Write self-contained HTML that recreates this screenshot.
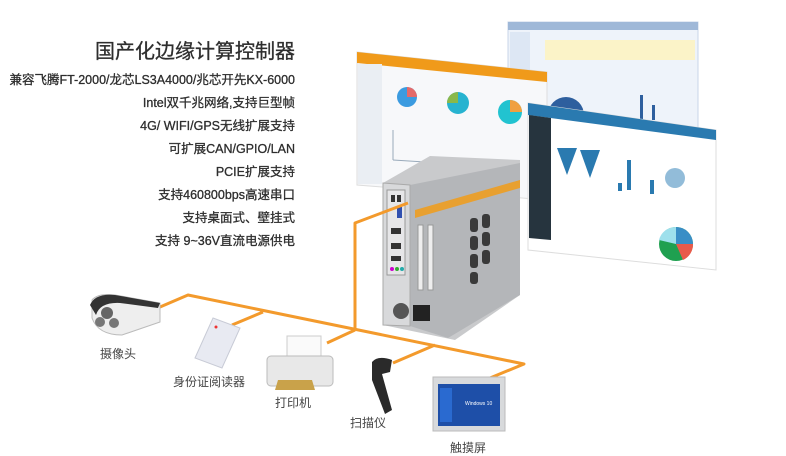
<!DOCTYPE html>
<html><head><meta charset="utf-8"><style>
html,body{margin:0;padding:0;background:#fff;}
body{width:786px;height:453px;position:relative;overflow:hidden;font-family:"Liberation Sans","Noto Sans CJK SC",sans-serif;color:#333;}
.t{position:absolute;right:491px;white-space:nowrap;font-size:12.5px;line-height:16px;color:#2e2e2e;text-align:right;-webkit-text-stroke:0.3px #2e2e2e;}
.l{position:absolute;font-size:12px;color:#444;white-space:nowrap;}
</style></head><body>
<div class="t" style="top:40px;font-size:20px;line-height:24px;">国产化边缘计算控制器</div>
<div class="t" style="top:72px;">兼容飞腾FT-2000/龙芯LS3A4000/兆芯开先KX-6000</div>
<div class="t" style="top:95px;">Intel双千兆网络,支持巨型帧</div>
<div class="t" style="top:118px;">4G/ WIFI/GPS无线扩展支持</div>
<div class="t" style="top:141px;">可扩展CAN/GPIO/LAN</div>
<div class="t" style="top:164px;">PCIE扩展支持</div>
<div class="t" style="top:187px;">支持460800bps高速串口</div>
<div class="t" style="top:210px;">支持桌面式、壁挂式</div>
<div class="t" style="top:233px;">支持 9~36V直流电源供电</div>

<svg width="786" height="453" style="position:absolute;left:0;top:0">
<!-- back screen -->
<rect x="508" y="22" width="190" height="110" fill="#eef3fa" stroke="#c8d6e8"/>
<rect x="508" y="22" width="190" height="8" fill="#9fb8d8"/>
<rect x="510" y="32" width="20" height="98" fill="#dde7f4"/>
<rect x="545" y="40" width="150" height="20" fill="#fbf3c8"/>
<path d="M548 115 A18 18 0 0 1 584 115 Z" fill="#2e5f9e"/>
<rect x="640" y="95" width="3" height="25" fill="#2e5f9e"/><rect x="652" y="105" width="3" height="15" fill="#2e5f9e"/>
<!-- left screen -->
<polygon points="357,52 547,72 547,200 357,185" fill="#f7f8fa" stroke="#ddd"/>
<polygon points="357,52 547,72 547,82 357,63" fill="#f09a1a"/>
<rect x="358" y="64" width="24" height="120" fill="#eaeef3"/>
<circle cx="407" cy="97" r="10" fill="#3b9be0"/><path d="M407 97 L407 87 A10 10 0 0 1 417 97Z" fill="#e46a6a"/>
<circle cx="458" cy="103" r="11" fill="#27b3d0"/><path d="M458 103 L458 92 A11 11 0 0 0 447 103Z" fill="#8ab84a"/>
<circle cx="510" cy="112" r="12" fill="#22c3d0"/><path d="M510 112 L510 100 A12 12 0 0 1 522 112Z" fill="#f0a040"/>
<line x1="393" y1="130" x2="393" y2="160" stroke="#9ab"/><line x1="393" y1="160" x2="520" y2="168" stroke="#9ab"/>
<!-- right screen -->
<polygon points="528,103 716,130 716,270 528,250" fill="#fff" stroke="#ddd"/>
<polygon points="528,103 716,130 716,140 528,115" fill="#2a7ab0"/>
<polygon points="529,115 551,118 551,240 529,238" fill="#26343e"/>
<polygon points="557,148 577,148 567,175" fill="#2a7ab0"/><polygon points="580,150 600,150 590,178" fill="#2a7ab0"/>
<rect x="627" y="160" width="4" height="30" fill="#2a7ab0"/><rect x="618" y="183" width="4" height="8" fill="#2a7ab0"/><rect x="650" y="180" width="4" height="14" fill="#2a7ab0"/>
<circle cx="675" cy="178" r="10" fill="#4a90c0" opacity=".6"/>
<circle cx="676" cy="244" r="17" fill="#1fa050"/><path d="M676 244 L676 227 A17 17 0 0 1 693 244Z" fill="#3a8ec6"/><path d="M676 244 L693 244 A17 17 0 0 1 683 260Z" fill="#e85a4a"/><path d="M676 244 L676 227 A17 17 0 0 0 659 240Z" fill="#9ee0ec"/>
<!-- computer -->
<polygon points="383,183 430,156 520,160 520,295 455,340 383,325" fill="#c9cacc"/>
<polygon points="410,185 520,163 520,295 448,338 410,326" fill="#b4b6b9"/>
<polygon points="383,183 410,185 410,326 383,325" fill="#d8d9db" stroke="#aaa"/>
<polygon points="415,210 520,180 520,188 415,218" fill="#e8a030"/>
<rect x="387" y="190" width="18" height="85" fill="#e6e6e8" stroke="#999"/>
<g fill="#333"><rect x="391" y="195" width="4" height="7"/><rect x="397" y="195" width="4" height="7"/><rect x="391" y="228" width="10" height="6"/><rect x="391" y="243" width="10" height="6"/><rect x="391" y="256" width="10" height="5"/></g>
<rect x="397" y="207" width="5" height="11" fill="#3050b0"/>
<circle cx="392" cy="269" r="2" fill="#c0c"/><circle cx="397" cy="269" r="2" fill="#3a3"/><circle cx="402" cy="269" r="2" fill="#2aa"/>
<rect x="418" y="225" width="5" height="65" fill="#eee" stroke="#999"/><rect x="428" y="225" width="5" height="65" fill="#eee" stroke="#999"/>
<g fill="#3a3a3a"><rect x="470" y="218" width="8" height="14" rx="3"/><rect x="482" y="214" width="8" height="14" rx="3"/><rect x="470" y="236" width="8" height="14" rx="3"/><rect x="482" y="232" width="8" height="14" rx="3"/><rect x="470" y="254" width="8" height="14" rx="3"/><rect x="482" y="250" width="8" height="14" rx="3"/><rect x="470" y="272" width="8" height="12" rx="3"/></g>
<circle cx="401" cy="311" r="8" fill="#555"/><rect x="413" y="305" width="17" height="16" fill="#222"/>
<!-- lines -->
<g stroke="#f39a2c" stroke-width="3" fill="none" stroke-linejoin="round">
<polyline points="160,307 188,295 524,364 490,378"/>
<polyline points="408,203 355,223 355,330"/>
<line x1="232" y1="325" x2="263" y2="312"/>
<line x1="327" y1="343" x2="355" y2="330"/>
<line x1="393" y1="363" x2="435" y2="345"/>
</g>
<!-- camera -->
<path d="M92 300 Q98 293 115 295 L160 303 L160 322 L122 335 Q98 335 92 318Z" fill="#eee" stroke="#bbb"/>
<path d="M90 305 Q95 293 115 295 L160 303 L158 308 L120 303 Q100 302 96 315Z" fill="#333"/>
<circle cx="107" cy="313" r="6" fill="#666"/><circle cx="100" cy="322" r="5" fill="#777"/><circle cx="114" cy="323" r="5" fill="#777"/>
<!-- reader -->
<polygon points="213,318 240,328 222,368 195,358" fill="#e8eaf2" stroke="#c8cbd6"/>
<circle cx="216" cy="327" r="1.5" fill="#e33"/>
<!-- printer -->
<rect x="287" y="336" width="34" height="22" fill="#fafafa" stroke="#ccc"/>
<rect x="267" y="356" width="66" height="30" rx="4" fill="#e8e8e8" stroke="#bbb"/>
<polygon points="278,380 312,380 315,390 275,390" fill="#c9a24a"/>
<!-- scanner -->
<path d="M372 362 Q378 355 392 360 L390 372 L382 374 L392 410 L385 414 L372 380 Z" fill="#2a2a2a"/>
<!-- touchscreen -->
<rect x="433" y="377" width="72" height="54" fill="#d8dadc" stroke="#bbb"/>
<rect x="438" y="384" width="62" height="42" fill="#1e4fa8"/>
<rect x="440" y="388" width="12" height="34" fill="#2a6ad0"/>
<text x="465" y="405" font-size="5" fill="#fff" font-family="Liberation Sans">Windows 10</text>
</svg>
<div class="l" style="left:100px;top:345px;">摄像头</div>
<div class="l" style="left:173px;top:373px;">身份证阅读器</div>
<div class="l" style="left:275px;top:394px;">打印机</div>
<div class="l" style="left:350px;top:414px;">扫描仪</div>
<div class="l" style="left:450px;top:439px;">触摸屏</div>
</body></html>
